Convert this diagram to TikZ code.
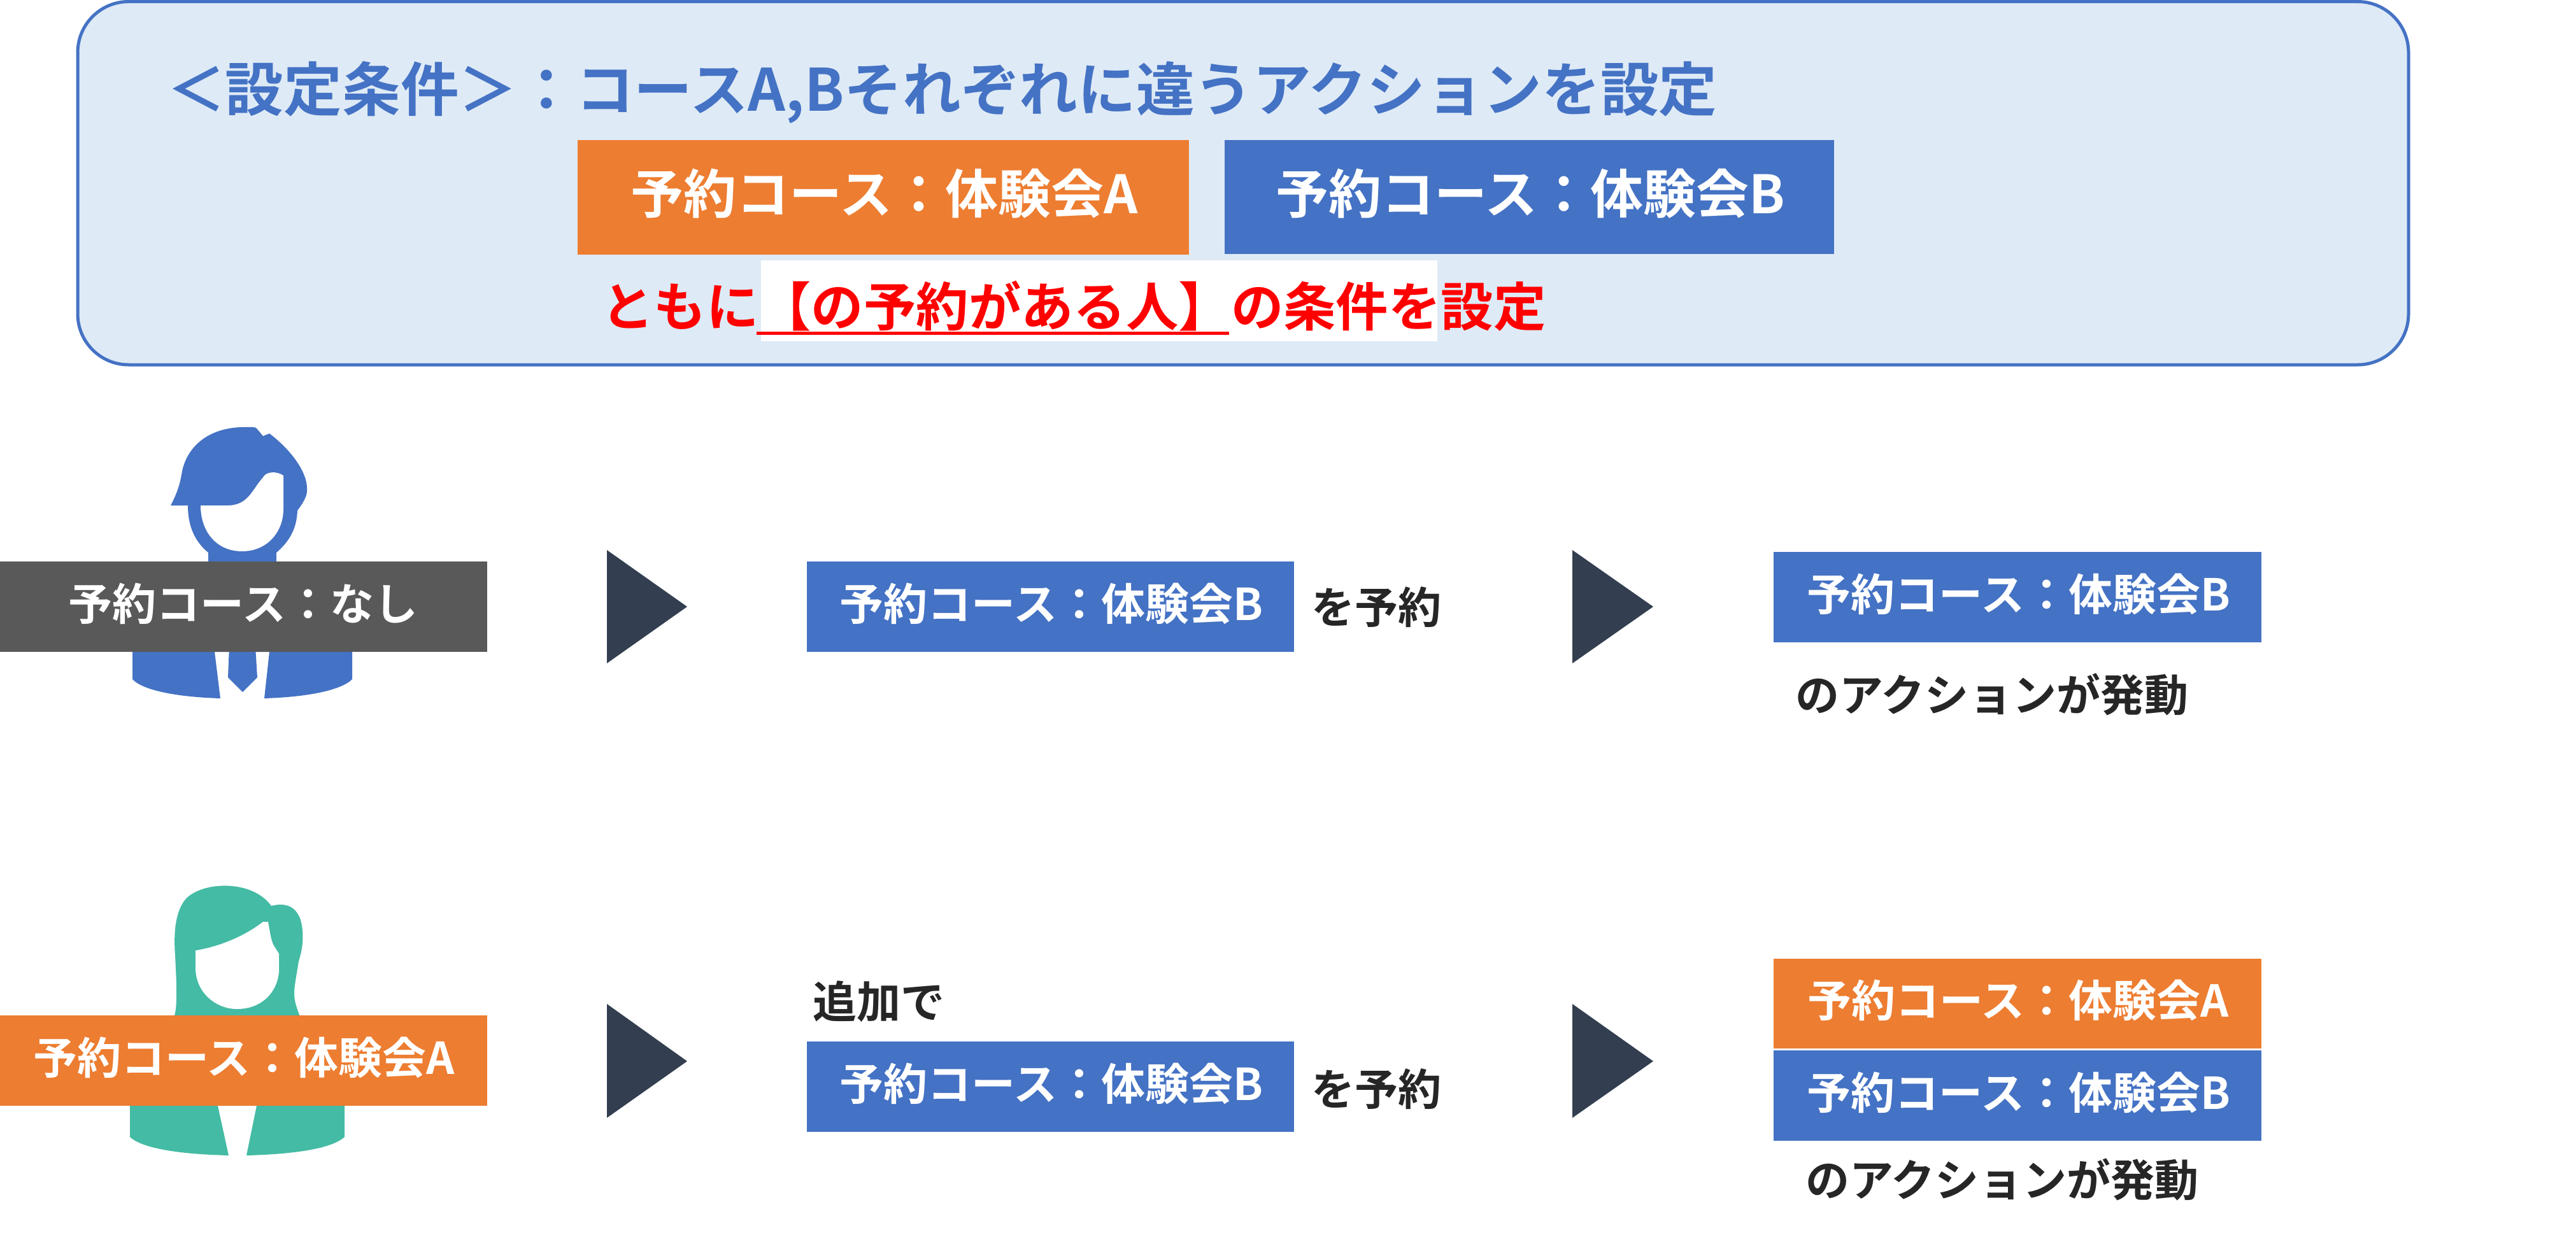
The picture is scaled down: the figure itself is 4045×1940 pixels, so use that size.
\documentclass[tikz,border=0pt]{standalone}
\usepackage{fontspec}
\newfontfamily\jpb{Noto Sans CJK JP Bold}
\setmainfont{Noto Sans CJK JP}
\definecolor{cblue}{HTML}{4472C4}
\definecolor{corange}{HTML}{ED7D31}
\definecolor{cgray}{HTML}{595959}
\definecolor{cteal}{HTML}{44BBA4}
\definecolor{cpanel}{HTML}{DEEAF6}
\definecolor{cnavy}{HTML}{333F50}
\definecolor{cink}{HTML}{262626}
\newcommand{\fs}[1]{\fontsize{#1}{#1}\selectfont\jpb}
\tikzset{
 x=1pt,y=-1pt,
 tag/.style={inner sep=0pt,outer sep=0pt,anchor=base,text=white,font=\fs{69}},
 bigtag/.style={inner sep=0pt,outer sep=0pt,anchor=base,text=white,font=\fs{83}},
 lab/.style={inner sep=0pt,outer sep=0pt,anchor=base west,text=cink,font=\fs{69}},
 shortlab/.style={lab,font=\fs{68}},
 arrowtri/.style={fill=cnavy,draw=none},
}
\begin{document}
\begin{tikzpicture}
\useasboundingbox (0,0) rectangle (4045,1940);
\fill[white] (0,0) rectangle (4045,1940);
% panel
\draw[cblue,line width=5pt,fill=cpanel,rounded corners=80pt] (122,2.5) rectangle (3782,573);
\node[anchor=base west,inner sep=0pt,text=cblue,font=\fs{91.7}] (head) at (262,175) {＜設定条件＞：コースA,Bそれぞれに違うアクションを設定};
\fill[corange] (907,220) rectangle (1867,400);
\node[bigtag] (ta) at (1389,335) {予約コース：体験会A};
\fill[cblue] (1923,220) rectangle (2880,399);
\node[bigtag] (tb) at (2403,335) {予約コース：体験会B};
\fill[white] (1195,409) rectangle (2257,536);
\draw[red,line width=5pt] (1188,523) -- (1930,523);
\node[anchor=base west,inner sep=0pt,text=red,font=\fs{82.4}] (cond) at (944,512) {ともに【の予約がある人】の条件を設定};
% man
\fill[cblue] (327,860) rectangle (434,890);
\fill[cblue] (268,794)
 .. controls (278,775) and (283,760) .. (286,740)
 .. controls (296,695) and (335,671) .. (383,671)
 .. controls (395,671) and (400,670) .. (403,673)
 -- (413,685) -- (423,681)
 .. controls (455,705) and (482,740) .. (482,767)
 .. controls (484,780) and (472,795) .. (467,802)
 .. controls (466,830) and (455,850) .. (434,868)
 -- (327,868)
 .. controls (305,850) and (295,825) .. (295,794) -- cycle;
\fill[white] (315,794) -- (357,794)
 .. controls (390,794) and (395,770) .. (413,750)
 .. controls (418,740) and (435,740) .. (445,747)
 -- (445,800)
 .. controls (445,835) and (420,866) .. (380,866)
 .. controls (340,866) and (315,835) .. (315,794) -- cycle;
\fill[cblue] (208,1015) -- (553,1015) -- (553,1067)
 .. controls (535,1085) and (480,1095) .. (415,1097)
 -- (423,1024) -- (337,1024) -- (346,1097)
 .. controls (280,1095) and (225,1085) .. (208,1067) -- cycle;
\fill[cblue] (360,1015) -- (401,1015) -- (404,1064) -- (381,1087) -- (358,1064) -- cycle;
\fill[cgray] (0,882) rectangle (765,1024);
\node[tag] (none) at (382,974) {予約コース：なし};
% woman
\fill[cteal] (274,1600) -- (274,1595)
 .. controls (279,1580) and (277,1540) .. (275,1500)
 .. controls (272,1460) and (277,1430) .. (291,1413)
 .. controls (315,1385) and (395,1380) .. (426,1423)
 .. controls (450,1417) and (465,1425) .. (472,1445)
 .. controls (480,1475) and (472,1500) .. (469,1510)
 .. controls (465,1535) and (462,1550) .. (462,1560)
 .. controls (462,1575) and (467,1585) .. (472,1600) -- cycle;
\fill[white] (307,1493) .. controls (345,1487) and (385,1470) .. (413,1448)
 -- (421,1448)
 .. controls (424,1465) and (426,1480) .. (431,1487)
 -- (438,1498) -- (438,1527)
 .. controls (435,1560) and (410,1585) .. (372,1585)
 .. controls (340,1585) and (307,1560) .. (307,1520) -- cycle;
\fill[cteal] (204,1730) -- (541,1730) -- (541,1786)
 .. controls (520,1805) and (460,1813) .. (387,1815)
 -- (403,1737) -- (342,1737) -- (359,1815)
 .. controls (285,1813) and (225,1805) .. (204,1786) -- cycle;
\fill[corange] (0,1595) rectangle (765,1737);
\node[tag] (per) at (383,1687) {予約コース：体験会A};
% row 1
\fill[arrowtri] (953,864) -- (1079,953) -- (953,1042) -- cycle;
\fill[cblue] (1267,882) rectangle (2032,1024);
\node[tag] (b1) at (1651,974) {予約コース：体験会B};
\node[shortlab] (w1) at (2059,979) {を予約};
\fill[arrowtri] (2469,864) -- (2596,953) -- (2469,1042) -- cycle;
\fill[cblue] (2785,867) rectangle (3551,1009);
\node[tag] (b2) at (3170,959) {予約コース：体験会B};
\node[lab] (w2) at (2819,1117) {のアクションが発動};
% row 2
\fill[arrowtri] (953,1577) -- (1079,1667) -- (953,1756) -- cycle;
\node[lab] (add) at (1276,1599) {追加で};
\fill[cblue] (1267,1636) rectangle (2032,1778);
\node[tag] (b3) at (1651,1728) {予約コース：体験会B};
\node[shortlab] (w3) at (2059,1736) {を予約};
\fill[arrowtri] (2469,1577) -- (2596,1667) -- (2469,1756) -- cycle;
\fill[corange] (2785,1506) rectangle (3551,1647);
\node[tag] (a4) at (3169,1597) {予約コース：体験会A};
\fill[cblue] (2785,1650) rectangle (3551,1792);
\node[tag] (b4) at (3170,1742) {予約コース：体験会B};
\node[lab] (w4) at (2835,1879) {のアクションが発動};
\end{tikzpicture}
\end{document}
